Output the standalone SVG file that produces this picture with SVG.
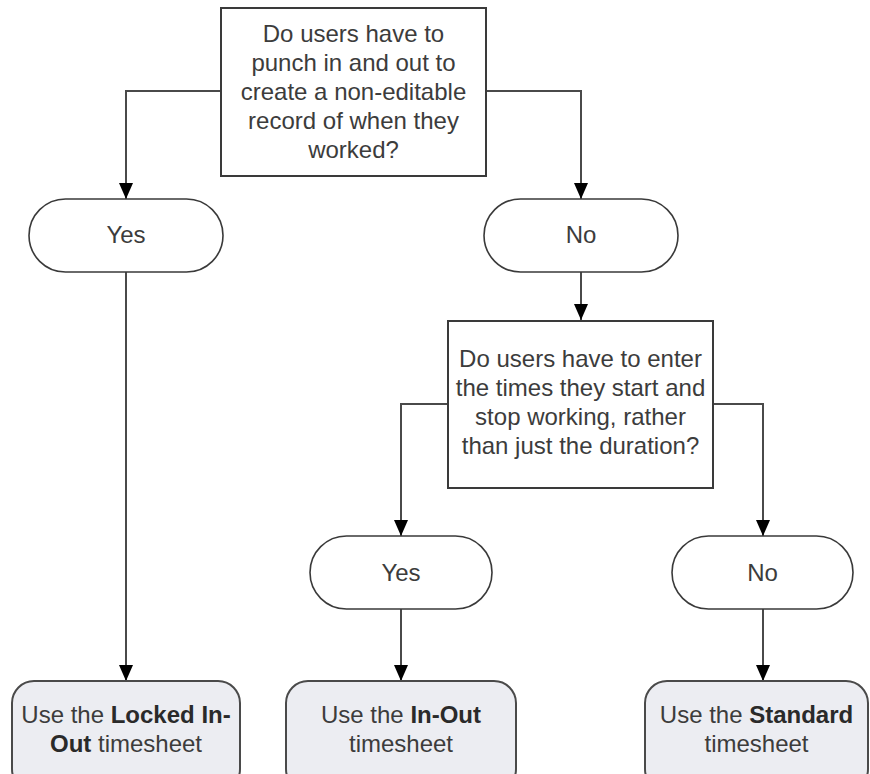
<svg xmlns="http://www.w3.org/2000/svg" width="870" height="774" viewBox="0 0 870 774">
<style>
.box{fill:#ffffff;stroke:#3a3a3a;stroke-width:2}
.term{fill:#ffffff;stroke:#3a3a3a;stroke-width:1.6}
.res{fill:#ecedf2;stroke:#4a4a4a;stroke-width:2}
.t{font-family:"Liberation Sans",Arial,sans-serif;font-size:24px;fill:#3c3c3c;text-anchor:middle}
.b{font-weight:bold;fill:#2a2a2a}
.c{fill:none;stroke:#4a4a4a;stroke-width:2}
</style>
<defs>
<marker id="ah" markerUnits="userSpaceOnUse" markerWidth="16" markerHeight="16" viewBox="0 0 16 16" refX="16" refY="8" orient="auto">
<path d="M0,1 L16,8 L0,15 Z" fill="#000000"/>
</marker>
</defs>
<rect width="870" height="774" fill="#ffffff"/>
<g id="connectors">
<path class="c" d="M221,91 H126 V199" marker-end="url(#ah)"/>
<path class="c" d="M486,91 H581 V199" marker-end="url(#ah)"/>
<path class="c" d="M126,272 V681" marker-end="url(#ah)"/>
<path class="c" d="M581,272 V320" marker-end="url(#ah)"/>
<path class="c" d="M448,404 H401 V536" marker-end="url(#ah)"/>
<path class="c" d="M713,404 H763 V536" marker-end="url(#ah)"/>
<path class="c" d="M401,609 V681" marker-end="url(#ah)"/>
<path class="c" d="M763,609 V681" marker-end="url(#ah)"/>
</g>
<g id="q1">
<rect class="box" x="221" y="8" width="265" height="168"/>
<text class="t" x="353.5" y="42">Do users have to</text>
<text class="t" x="353.5" y="71">punch in and out to</text>
<text class="t" x="353.5" y="100">create a non-editable</text>
<text class="t" x="353.5" y="129">record of when they</text>
<text class="t" x="353.5" y="158">worked?</text>
</g>
<g id="yes1">
<rect class="term" x="29" y="199" width="194" height="73" rx="36.5"/>
<text class="t" x="126" y="243">Yes</text>
</g>
<g id="no1">
<rect class="term" x="484" y="199" width="194" height="73" rx="36.5"/>
<text class="t" x="581" y="243">No</text>
</g>
<g id="q2">
<rect class="box" x="448" y="321" width="265" height="167"/>
<text class="t" x="580.5" y="367">Do users have to enter</text>
<text class="t" x="580.5" y="396">the times they start and</text>
<text class="t" x="580.5" y="425">stop working, rather</text>
<text class="t" x="580.5" y="454">than just the duration?</text>
</g>
<g id="yes2">
<rect class="term" x="310" y="536" width="182" height="73" rx="36.5"/>
<text class="t" x="401" y="581">Yes</text>
</g>
<g id="no2">
<rect class="term" x="672" y="536" width="181" height="73" rx="36.5"/>
<text class="t" x="762.5" y="581">No</text>
</g>
<g id="locked">
<rect class="res" x="12" y="681" width="228" height="110" rx="22"/>
<text class="t" x="126" y="723">Use the <tspan class="b">Locked In-</tspan></text>
<text class="t" x="126" y="752"><tspan class="b">Out</tspan> timesheet</text>
</g>
<g id="inout">
<rect class="res" x="286" y="681" width="230" height="110" rx="22"/>
<text class="t" x="401" y="723">Use the <tspan class="b">In-Out</tspan></text>
<text class="t" x="401" y="752">timesheet</text>
</g>
<g id="standard">
<rect class="res" x="645" y="681" width="223" height="110" rx="22"/>
<text class="t" x="756.5" y="723">Use the <tspan class="b">Standard</tspan></text>
<text class="t" x="756.5" y="752">timesheet</text>
</g>
</svg>
